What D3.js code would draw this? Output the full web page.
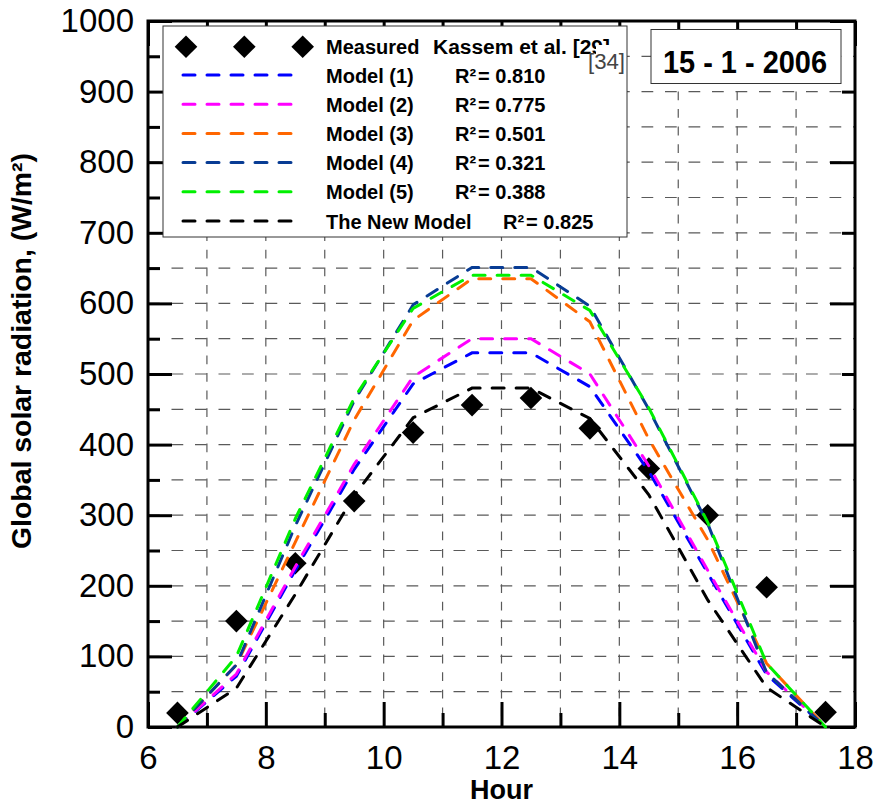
<!DOCTYPE html>
<html>
<head>
<meta charset="utf-8">
<script src="https://cdn.jsdelivr.net/npm/d3@7"></script>
<style>
  body { margin: 0; background: #fff; }
  svg { display: block; font-family: Arial, "Liberation Sans", sans-serif; }
</style>
</head>
<body>
<svg id="chart" width="876" height="804"></svg>
<script>
const hours = [6.5, 7.5, 8.5, 9.5, 10.5, 11.5, 12.5, 13.5, 14.5, 15.5, 16.5, 17.5];
const measured = [20, 150, 232, 320, 417, 456, 466, 423, 366, 300, 198, 21];
const model1 = [0, 72, 222, 365, 486, 530, 530, 482, 362, 218, 74, 0];
const model2 = [0, 75, 227, 372, 496, 550, 550, 500, 370, 222, 78, 0];
const model3 = [0, 88, 262, 435, 576, 635, 635, 574, 408, 265, 90, 0];
const model4 = [0, 88, 285, 462, 598, 651, 651, 596, 450, 288, 77, 0];
const model5 = [0, 100, 295, 466, 593, 640, 640, 590, 452, 290, 90, 0];
const newModel = [0, 55, 188, 328, 438, 480, 480, 437, 329, 180, 56, 0];

const modelNames = ['Model (1)', 'Model (2)', 'Model (3)', 'Model (4)', 'Model (5)', 'The New Model'];
const modelR2 = ['0.810', '0.775', '0.501', '0.321', '0.388', '0.825'];
const modelColors = ['#0000ff', '#ff00ff', '#ff6600', '#083c94', '#00f000', '#000000'];

const xTicks = [6, 8, 10, 12, 14, 16, 18];
const yTicks = [0, 100, 200, 300, 400, 500, 600, 700, 800, 900, 1000];

const series = [model1, model2, model3, model4, model5, newModel].map((values, i) => ({
  name: modelNames[i],
  r2: modelR2[i],
  color: modelColors[i],
  points: hours.map((h, j) => ({ hour: h, value: values[j] }))
}));

const svg = d3.select('#chart');
const plotLeft = 148, plotRight = 855, plotTop = 21, plotBottom = 727;

const x = d3.scaleLinear().domain([6, 18]).range([plotLeft, plotRight]);
const y = d3.scaleLinear().domain([0, 1000]).range([plotBottom, plotTop]);
const fmt = d3.format('d');

svg.append('rect')
  .attr('width', 876)
  .attr('height', 804)
  .attr('fill', '#fff');

// grid
const grid = svg.append('g')
  .attr('stroke', '#5a5a5a')
  .attr('stroke-width', 1.2);

grid.selectAll('.vgrid')
  .data(d3.range(7, 18))
  .enter().append('line')
  .attr('x1', d => x(d))
  .attr('x2', d => x(d))
  .attr('y1', plotTop)
  .attr('y2', plotBottom)
  .attr('stroke-dasharray', '8.8,8.8');

grid.selectAll('.hgrid')
  .data(d3.range(50, 1000, 50))
  .enter().append('line')
  .attr('x1', plotLeft)
  .attr('x2', plotRight)
  .attr('y1', d => y(d))
  .attr('y2', d => y(d))
  .attr('stroke-dasharray', '11.75,11.75');

// axes, ticks pointing inward
function styleAxis(g) {
  g.select('.domain').remove();
  g.selectAll('.tick line')
    .attr('stroke', '#000')
    .attr('stroke-width', 3);
  g.selectAll('.tick text')
    .attr('fill', '#000')
    .attr('font-size', 33)
    .attr('font-family', 'Arial, "Liberation Sans", sans-serif');
}

svg.append('g')
  .attr('transform', `translate(${plotLeft},0)`)
  .call(d3.axisLeft(y).tickValues(yTicks).tickFormat(fmt).tickSize(-24).tickPadding(14))
  .call(styleAxis);

svg.append('g')
  .attr('transform', `translate(${plotLeft},0)`)
  .call(d3.axisLeft(y).tickValues(d3.range(50, 1000, 100)).tickSize(-12).tickFormat(''))
  .call(styleAxis);

svg.append('g')
  .attr('transform', `translate(${plotRight},0)`)
  .call(d3.axisRight(y).tickValues(d3.range(0, 1001, 200)).tickSize(-25).tickFormat(''))
  .call(styleAxis);

svg.append('g')
  .attr('transform', `translate(${plotRight},0)`)
  .call(d3.axisRight(y).tickValues(d3.range(100, 1000, 200)).tickSize(-13).tickFormat(''))
  .call(styleAxis);

svg.append('g')
  .attr('transform', `translate(0,${plotBottom})`)
  .call(d3.axisBottom(x).tickValues(xTicks).tickFormat(fmt).tickSize(-25).tickPadding(19))
  .call(styleAxis);

svg.append('g')
  .attr('transform', `translate(0,${plotBottom})`)
  .call(d3.axisBottom(x).tickValues(d3.range(7, 18, 2)).tickSize(-14).tickFormat(''))
  .call(styleAxis);

svg.append('g')
  .attr('transform', `translate(0,${plotTop})`)
  .call(d3.axisTop(x).tickValues(xTicks).tickSize(-25).tickFormat(''))
  .call(styleAxis);

svg.append('g')
  .attr('transform', `translate(0,${plotTop})`)
  .call(d3.axisTop(x).tickValues(d3.range(7, 18, 2)).tickSize(-14).tickFormat(''))
  .call(styleAxis);

svg.append('rect')
  .attr('x', plotLeft)
  .attr('y', plotTop)
  .attr('width', plotRight - plotLeft)
  .attr('height', plotBottom - plotTop)
  .attr('fill', 'none')
  .attr('stroke', '#000')
  .attr('stroke-width', 3);

// axis titles
svg.append('text')
  .attr('transform', 'translate(31,351) rotate(-90)')
  .attr('text-anchor', 'middle')
  .attr('font-size', 27)
  .attr('font-weight', 'bold')
  .attr('textLength', 396)
  .attr('lengthAdjust', 'spacingAndGlyphs')
  .text('Global solar radiation, (W/m²)');

svg.append('text')
  .attr('x', (plotLeft + plotRight) / 2)
  .attr('y', 799)
  .attr('text-anchor', 'middle')
  .attr('font-size', 27)
  .attr('font-weight', 'bold')
  .text('Hour');

// measured points
const diamond = d3.symbol().type(d3.symbolSquare).size(256);

svg.append('g')
  .selectAll('path')
  .data(hours.map((h, i) => ({ hour: h, value: measured[i] })))
  .enter().append('path')
  .attr('d', diamond)
  .attr('transform', d => `translate(${x(d.hour)},${y(d.value)}) rotate(45)`)
  .attr('fill', '#000');

// model lines
const line = d3.line()
  .x(d => x(d.hour))
  .y(d => y(d.value));

svg.append('g')
  .selectAll('path')
  .data(series)
  .enter().append('path')
  .attr('d', d => line(d.points))
  .attr('fill', 'none')
  .attr('stroke', d => d.color)
  .attr('stroke-width', 3)
  .attr('stroke-linecap', 'round')
  .attr('stroke-dasharray', '12,12');

// legend
const legend = svg.append('g');

legend.append('rect')
  .attr('x', 163)
  .attr('y', 26)
  .attr('width', 464)
  .attr('height', 211)
  .attr('fill', '#fff')
  .attr('stroke', '#333')
  .attr('stroke-width', 1);

legend.selectAll('.lsym')
  .data([186, 244.3, 302.7])
  .enter().append('path')
  .attr('d', diamond)
  .attr('transform', d => `translate(${d},46.7) rotate(45)`)
  .attr('fill', '#000');

legend.append('text')
  .attr('x', 326)
  .attr('y', 54)
  .attr('font-size', 20)
  .attr('font-weight', 'bold')
  .text('Measured');

legend.append('text')
  .attr('x', 433)
  .attr('y', 54)
  .attr('font-size', 20)
  .attr('font-weight', 'bold')
  .attr('textLength', 177)
  .attr('lengthAdjust', 'spacingAndGlyphs')
  .text('Kassem et al. [29]');

legend.append('rect')
  .attr('x', 596)
  .attr('y', 45)
  .attr('width', 30)
  .attr('height', 28)
  .attr('fill', '#fff');

legend.append('text')
  .attr('x', 588)
  .attr('y', 69)
  .attr('font-size', 22)
  .attr('fill', '#444')
  .attr('textLength', 37)
  .attr('lengthAdjust', 'spacingAndGlyphs')
  .text('[34]');

const rows = legend.selectAll('.lrow')
  .data(series)
  .enter().append('g')
  .attr('transform', (d, i) => `translate(0,${75 + i * 29.2})`);

rows.append('line')
  .attr('x1', 183)
  .attr('x2', 291)
  .attr('stroke', d => d.color)
  .attr('stroke-width', 3)
  .attr('stroke-linecap', 'round')
  .attr('stroke-dasharray', '12,12');

rows.append('text')
  .attr('x', 326)
  .attr('y', 7.5)
  .attr('font-size', 20)
  .attr('font-weight', 'bold')
  .text(d => d.name);

const r2 = rows.append('text')
  .attr('x', (d, i) => i === 5 ? 503 : 455)
  .attr('y', 7.5)
  .attr('font-size', 20)
  .attr('font-weight', 'bold');

r2.append('tspan').text('R²');
r2.append('tspan').attr('dx', 2).text(d => `= ${d.r2}`);

// date box
svg.append('rect')
  .attr('x', 651)
  .attr('y', 29.5)
  .attr('width', 190)
  .attr('height', 54)
  .attr('fill', '#fff')
  .attr('stroke', '#333')
  .attr('stroke-width', 1);

svg.append('text')
  .attr('x', 745)
  .attr('y', 73)
  .attr('text-anchor', 'middle')
  .attr('font-size', 32)
  .attr('font-weight', 'bold')
  .attr('textLength', 164)
  .attr('lengthAdjust', 'spacingAndGlyphs')
  .text('15 - 1 - 2006');
</script>
</body>
</html>
